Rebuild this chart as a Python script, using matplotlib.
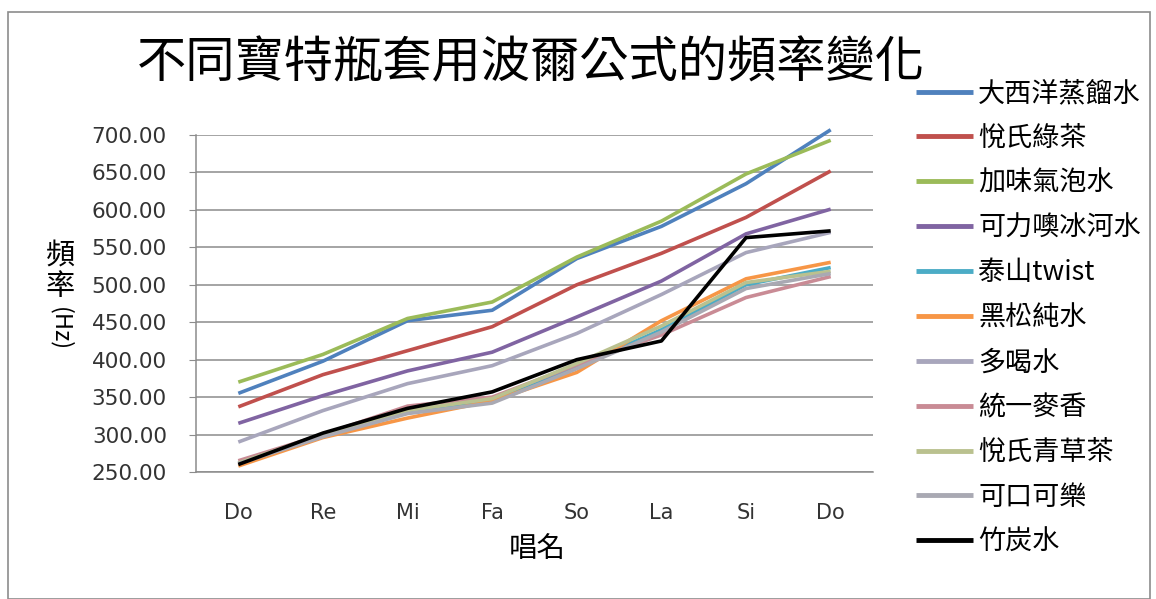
import matplotlib.pyplot as plt
from matplotlib.patches import Rectangle
from matplotlib.ticker import FormatStrFormatter

CJK = ["Noto Sans CJK TC", "DejaVu Sans"]

notes = ["Do", "Re", "Mi", "Fa", "So", "La", "Si", "Do"]

atlantic   = [355, 398, 452, 466, 535, 578, 635, 707]
green_tea  = [337, 380, 412, 444, 500, 542, 590, 652]
sparkling  = [370, 407, 455, 477, 537, 585, 648, 693]
glacier    = [315, 352, 385, 410, 457, 505, 568, 601]
twist      = [262, 298, 330, 347, 390, 440, 500, 523]
heisong    = [258, 296, 322, 345, 383, 452, 508, 530]
duoheshui  = [290, 332, 368, 392, 435, 487, 543, 570]
barley_tea = [265, 300, 338, 350, 393, 433, 483, 511]
herbal_tea = [262, 300, 332, 348, 395, 445, 503, 518]
cola       = [261, 297, 328, 342, 388, 437, 495, 515]
charcoal   = [260, 302, 335, 357, 400, 425, 563, 572]

series = [
    ("大西洋蒸餾水", atlantic,   "#4F81BD"),
    ("悅氏綠茶",     green_tea,  "#C0504D"),
    ("加味氣泡水",   sparkling,  "#9BBB59"),
    ("可力噢冰河水", glacier,    "#8064A2"),
    ("泰山twist",    twist,      "#4BACC6"),
    ("黑松純水",     heisong,    "#F79646"),
    ("多喝水",       duoheshui,  "#A8A6BC"),
    ("統一麥香",     barley_tea, "#C98B95"),
    ("悅氏青草茶",   herbal_tea, "#BAC18F"),
    ("可口可樂",     cola,       "#A9A9B3"),
    ("竹炭水",       charcoal,   "#000000"),
]

W, H = 1156, 599
fig = plt.figure(figsize=(W / 100, H / 100), dpi=100)
fig.patch.set_facecolor("white")

# chart area frame
fig.patches.append(Rectangle((8 / W, 0), 1142 / W, 1 - 12 / H,
                             transform=fig.transFigure, fill=False,
                             edgecolor="#8C8C8C", linewidth=1.2))

ax = fig.add_axes([196 / W, 1 - 472 / H, 677 / W, 337 / H])

x = range(len(notes))
for name, vals, color in series:
    ax.plot(x, vals, color=color, linewidth=2.6, label=name,
            clip_on=False, solid_capstyle="butt")

ax.set_xlim(-0.5, len(notes) - 0.5)
ax.set_ylim(250, 700)
ax.set_yticks(range(250, 701, 50))
ax.yaxis.set_major_formatter(FormatStrFormatter("%.2f"))
ax.set_xticks(list(x))
ax.set_xticklabels(notes)

ax.grid(axis="y", color="#8C8C8C", linewidth=1.1)
ax.set_axisbelow(True)
for side in ("top", "right"):
    ax.spines[side].set_visible(False)
for side in ("left", "bottom"):
    ax.spines[side].set_color("#8C8C8C")
    ax.spines[side].set_linewidth(1.1)

ax.tick_params(axis="y", length=5, color="#8C8C8C", pad=16,
               labelsize=15.5, labelcolor="#333333")
ax.tick_params(axis="x", length=0, pad=22, labelsize=15,
               labelcolor="#333333")

# title
fig.text(531 / W, 1 - 63 / H, "不同寶特瓶套用波爾公式的頻率變化",
         family=CJK, fontsize=35.5, ha="center", va="center")

# stacked y-axis label
fig.text(60 / W, 1 - 257 / H, "頻", family=CJK, fontsize=21,
         ha="center", va="center")
fig.text(60 / W, 1 - 287 / H, "率", family=CJK, fontsize=21,
         ha="center", va="center")
fig.text(60 / W, 1 - 329 / H, "(Hz)", family=CJK, fontsize=17,
         rotation=-90, ha="center", va="center")

# x-axis label
fig.text(537 / W, 1 - 549 / H, "唱名", family=CJK, fontsize=20.5,
         ha="center", va="center")

fig.legend(loc="upper left", bbox_to_anchor=(916 / W, 1 - 80 / H),
           frameon=False, prop={"family": CJK, "size": 19.5},
           handlelength=2.1, handletextpad=0.2, labelspacing=0.66,
           borderpad=0, borderaxespad=0)
for line in fig.legends[0].get_lines():
    line.set_linewidth(3.5)

fig.savefig("out.png", dpi=100, facecolor="white")
